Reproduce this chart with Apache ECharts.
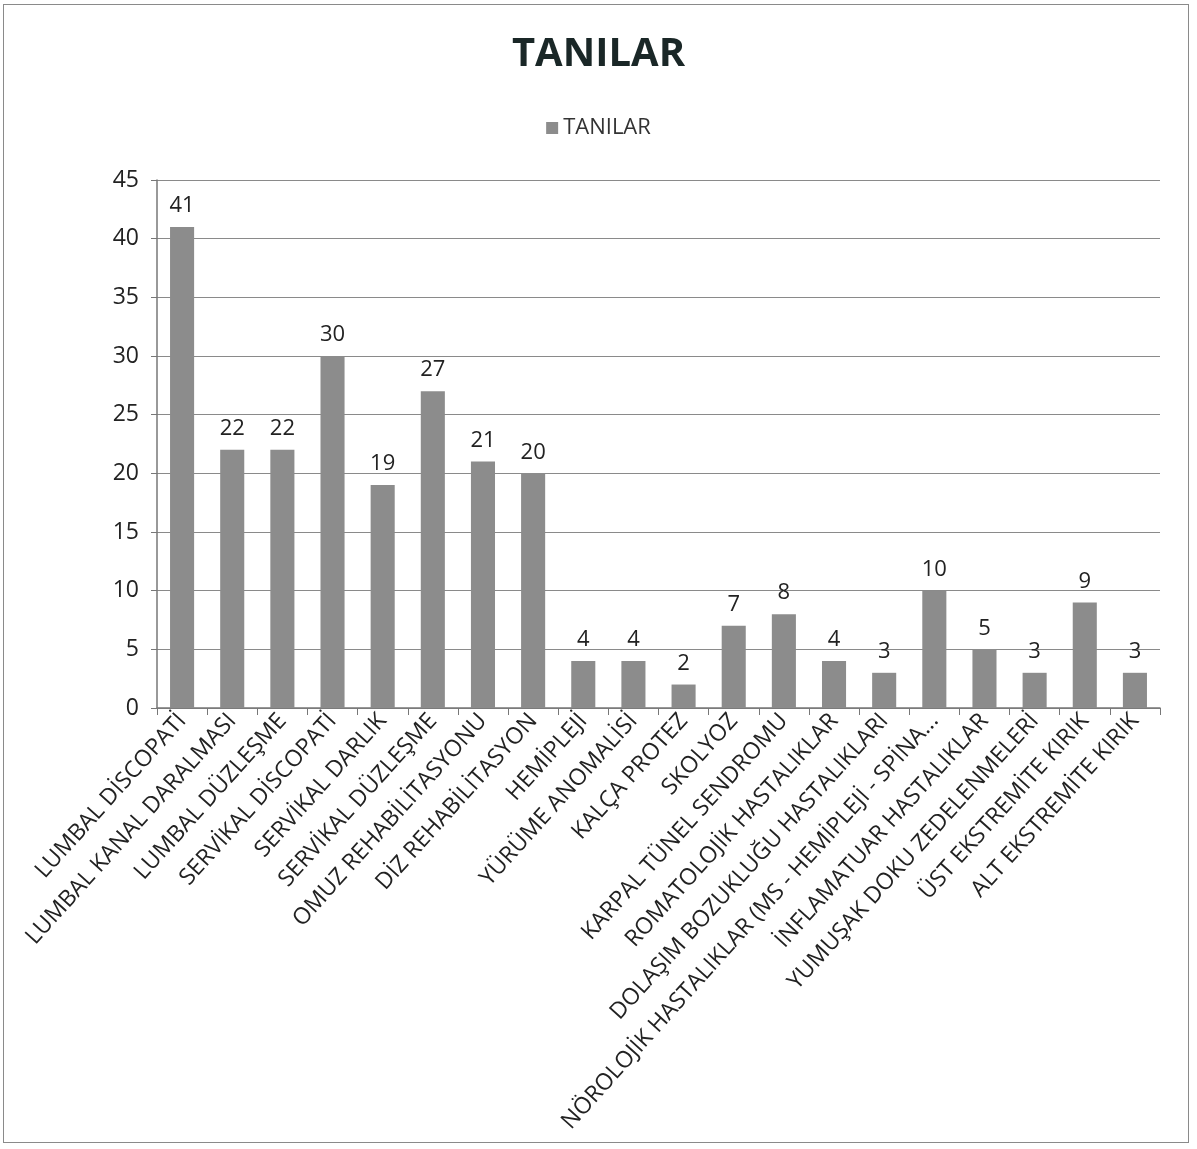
<!DOCTYPE html>
<html>
<head>
<meta charset="utf-8">
<script src="https://cdn.jsdelivr.net/npm/echarts@6/dist/echarts.min.js"></script>
<style>
html,body{margin:0;padding:0;background:#fff;}
#frame{position:absolute;left:3px;top:4px;width:1186px;height:1139px;border:1.5px solid #8a8a8a;box-sizing:border-box;}
#chart{position:absolute;left:0;top:0;width:1197px;height:1149px;}
</style>
</head>
<body>
<div id="frame"></div>
<div id="chart"></div>
<script>
const categories = [
  "LUMBAL DİSCOPATİ",
  "LUMBAL KANAL DARALMASI",
  "LUMBAL DÜZLEŞME",
  "SERVİKAL DİSCOPATİ",
  "SERVİKAL DARLIK",
  "SERVİKAL DÜZLEŞME",
  "OMUZ REHABİLİTASYONU",
  "DİZ REHABİLİTASYON",
  "HEMİPLEJİ",
  "YÜRÜME ANOMALİSİ",
  "KALÇA PROTEZ",
  "SKOLYOZ",
  "KARPAL TÜNEL SENDROMU",
  "ROMATOLOJİK HASTALIKLAR",
  "DOLAŞIM BOZUKLUĞU HASTALIKLARI",
  "NÖROLOJİK HASTALIKLAR (MS - HEMİPLEJİ - SPİNA...",
  "İNFLAMATUAR HASTALIKLAR",
  "YUMUŞAK DOKU ZEDELENMELERİ",
  "ÜST EKSTREMİTE KIRIK",
  "ALT EKSTREMİTE KIRIK"
];
const values = [41, 22, 22, 30, 19, 27, 21, 20, 4, 4, 2, 7, 8, 4, 3, 10, 5, 3, 9, 3];
const seriesName = "TANILAR";
const titleText = "TANILAR";

const chart = echarts.init(document.getElementById('chart'));
const font = "'Open Sans', 'Noto Sans', sans-serif";
chart.setOption({
  animation: false,
  backgroundColor: 'transparent',
  title: {
    text: titleText,
    left: 'center',
    top: 30,
    textStyle: {fontFamily: font, fontSize: 40, fontWeight: 'bold', color: '#1a2727'}
  },
  legend: {
    top: 112,
    left: 'center',
    itemWidth: 12,
    itemHeight: 12,
    itemGap: 6,
    icon: 'rect',
    textStyle: {fontFamily: font, fontSize: 22, color: '#333'},
    data: [seriesName]
  },
  grid: {left: 157, right: 37, top: 180, bottom: 441, containLabel: false},
  xAxis: {
    type: 'category',
    data: categories,
    axisLine: {lineStyle: {color: '#777', width: 1.5}},
    axisTick: {show: true, alignWithLabel: false, length: 7, lineStyle: {color: '#777'}},
    axisLabel: {
      interval: 0,
      rotate: 48,
      fontFamily: font,
      fontSize: 23,
      color: '#222',
      margin: 9
    }
  },
  yAxis: {
    type: 'value',
    min: 0,
    max: 45,
    interval: 5,
    axisLine: {show: true, lineStyle: {color: '#777', width: 1.5}},
    axisTick: {show: true, length: 6, lineStyle: {color: '#777'}},
    splitLine: {lineStyle: {color: '#8a8a8a', width: 1.2}},
    axisLabel: {fontFamily: font, fontSize: 23, color: '#222', margin: 18}
  },
  series: [{
    name: seriesName,
    type: 'bar',
    data: values,
    barWidth: '48%',
    itemStyle: {color: '#8c8c8c'},
    label: {
      show: true,
      position: 'top',
      distance: 10,
      fontFamily: font,
      fontSize: 22,
      color: '#222'
    }
  }]
});
</script>
</body>
</html>
